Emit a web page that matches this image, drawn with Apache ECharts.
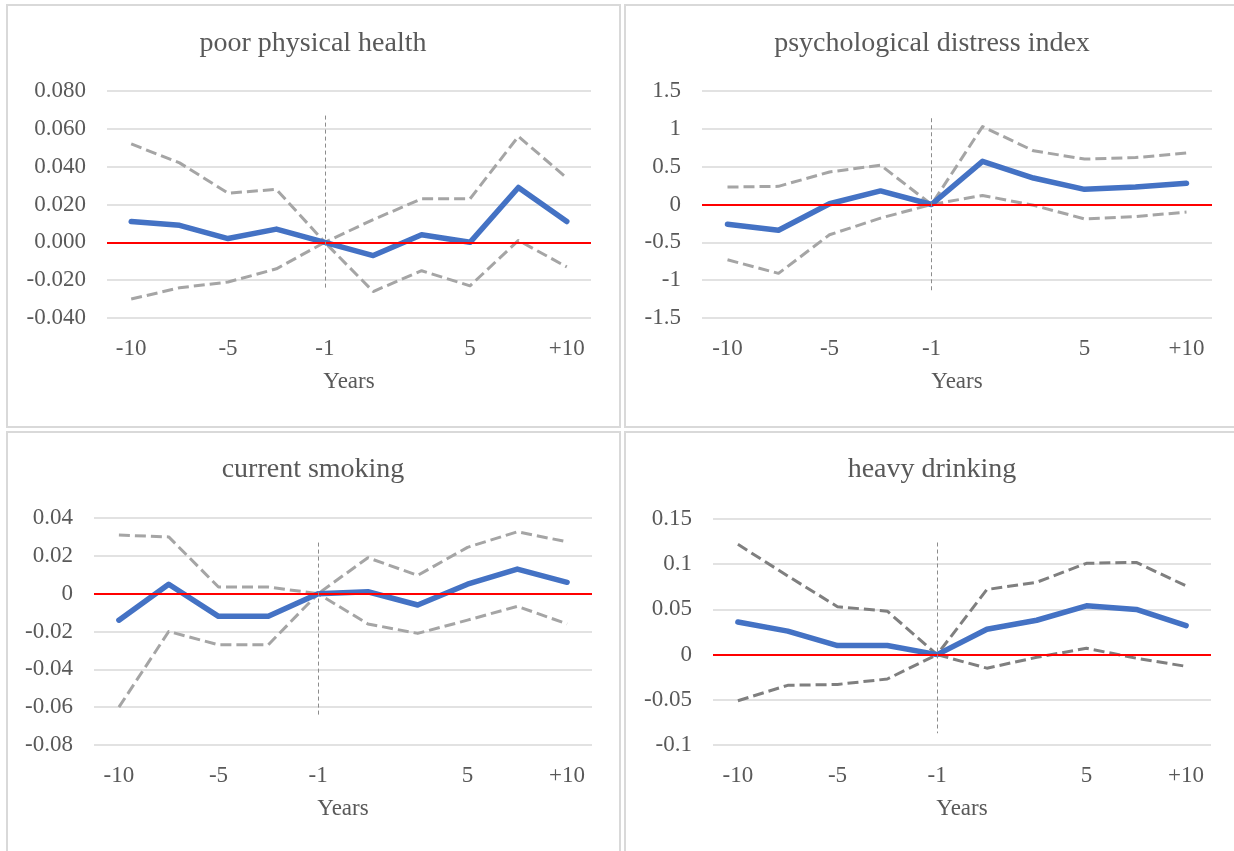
<!DOCTYPE html>
<html>
<head>
<meta charset="utf-8">
<script src="https://cdn.jsdelivr.net/npm/echarts@6/dist/echarts.min.js"></script>
<style>html,body{margin:0;padding:0;background:#fff}#c{width:1234px;height:851px}</style>
</head>
<body>
<div id="c"></div>
<script>
// ---- data ----
const years = ['-10', '', '-5', '', '-1', '', '', '5', '', '+10'];

const titles = ['poor physical health', 'psychological distress index', 'current smoking', 'heavy drinking'];

const physEst   = [0.011, 0.009, 0.002, 0.007, 0, -0.007, 0.004, 0.000, 0.029, 0.011];
const physUpper = [0.052, 0.042, 0.026, 0.028, 0, 0.012, 0.023, 0.023, 0.056, 0.034];
const physLower = [-0.030, -0.024, -0.021, -0.014, 0, -0.026, -0.015, -0.023, 0.001, -0.013];

const distEst   = [-0.26, -0.34, 0.01, 0.18, 0, 0.57, 0.35, 0.20, 0.23, 0.28];
const distUpper = [0.23, 0.24, 0.43, 0.52, 0, 1.03, 0.71, 0.60, 0.62, 0.68];
const distLower = [-0.73, -0.91, -0.40, -0.18, 0, 0.12, -0.01, -0.19, -0.16, -0.10];

const smokeEst   = [-0.014, 0.005, -0.012, -0.012, 0, 0.001, -0.006, 0.005, 0.013, 0.006];
const smokeUpper = [0.031, 0.030, 0.0035, 0.0035, 0, 0.019, 0.0097, 0.0245, 0.0327, 0.0274];
const smokeLower = [-0.060, -0.020, -0.027, -0.027, 0, -0.016, -0.021, -0.014, -0.0067, -0.016];

const drinkEst   = [0.036, 0.026, 0.010, 0.010, 0, 0.028, 0.038, 0.054, 0.050, 0.032];
const drinkUpper = [0.122, 0.087, 0.053, 0.048, 0, 0.072, 0.080, 0.101, 0.102, 0.076];
const drinkLower = [-0.051, -0.034, -0.033, -0.027, 0, -0.015, -0.003, 0.007, -0.004, -0.013];

// y-axis ranges [min, max, interval]
const yRanges = [[-0.04, 0.08, 0.02], [-1.5, 1.5, 0.5], [-0.08, 0.04, 0.02], [-0.1, 0.15, 0.05]];
// vertical reference line at event year -1: [top, bottom]
const vLines = [[0.067, -0.025], [1.14, -1.17], [0.027, -0.065], [0.124, -0.087]];

const panels = [
  {est: physEst, up: physUpper, lo: physLower},
  {est: distEst, up: distUpper, lo: distLower},
  {est: smokeEst, up: smokeUpper, lo: smokeLower},
  {est: drinkEst, up: drinkUpper, lo: drinkLower}
];

// ---- layout ----
const FONT = '"Liberation Serif", "Times New Roman", serif';
const TXT = '#595959';
const grids = [
  {left: 107, top: 91, width: 484, height: 227},
  {left: 702, top: 91, width: 510, height: 227},
  {left: 94, top: 518, width: 498, height: 227},
  {left: 713, top: 519, width: 498, height: 226}
];
const titlePos = [[313, 29], [932, 29], [313, 455], [932, 455]];
const boxes = [[7, 5, 613, 422], [625, 5, 620, 422], [7, 432, 613, 430], [625, 432, 620, 430]];
const ciColors = ['#A5A5A5', '#A5A5A5', '#A5A5A5', '#7F7F7F'];

const option = {
  animation: false,
  backgroundColor: '#fff',
  graphic: boxes.map(b => ({
    type: 'rect', shape: {x: b[0], y: b[1], width: b[2], height: b[3]},
    style: {fill: 'none', stroke: '#D9D9D9', lineWidth: 2}, silent: true, z: -1
  })),
  title: titles.map((t, i) => ({
    text: t, left: titlePos[i][0], top: titlePos[i][1], textAlign: 'center', padding: 0,
    textStyle: {fontFamily: FONT, fontSize: 28, fontWeight: 'normal', color: TXT, lineHeight: 30}
  })),
  grid: grids,
  xAxis: grids.map((g, i) => ({
    type: 'category', gridIndex: i, data: years, boundaryGap: true,
    axisLine: {show: false}, axisTick: {show: false},
    axisLabel: {interval: 0, margin: 19, fontFamily: FONT, fontSize: 23, color: TXT},
    name: 'Years', nameLocation: 'middle', nameGap: 52,
    nameTextStyle: {fontFamily: FONT, fontSize: 23, color: TXT},
    splitLine: {show: false}
  })),
  yAxis: grids.map((g, i) => ({
    type: 'value', gridIndex: i, min: yRanges[i][0], max: yRanges[i][1], interval: yRanges[i][2],
    axisLine: {show: false}, axisTick: {show: false},
    axisLabel: {margin: 21, fontFamily: FONT, fontSize: 23, color: TXT,
      formatter: i === 0 ? (v => v.toFixed(3)) : (v => String(Math.round(v * 1000) / 1000))},
    splitLine: {lineStyle: {color: '#D9D9D9', width: 1.5}}
  })),
  series: []
};

panels.forEach((p, i) => {
  const ci = {
    type: 'line', xAxisIndex: i, yAxisIndex: i, symbol: 'none',
    lineStyle: {color: ciColors[i], width: 3, type: [11, 5], cap: 'butt', join: 'round'},
    z: 3
  };
  option.series.push(Object.assign({}, ci, {name: 'upper', data: p.up}));
  option.series.push(Object.assign({}, ci, {name: 'lower', data: p.lo}));
  option.series.push({
    type: 'line', name: 'estimate', xAxisIndex: i, yAxisIndex: i, symbol: 'none', data: p.est,
    lineStyle: {color: '#4472C4', width: 5.5, cap: 'round', join: 'round'}, z: 4,
    markLine: {
      silent: true, symbol: 'none', label: {show: false}, animation: false,
      data: [
        {yAxis: 0, lineStyle: {color: '#FF0000', width: 2, type: 'solid'}},
        [{coord: [4, vLines[i][0]], lineStyle: {color: '#8C8C8C', width: 1, type: [4, 3]}},
         {coord: [4, vLines[i][1]]}]
      ]
    }
  });
});

const chart = echarts.init(document.getElementById('c'), null, {renderer: 'canvas'});
chart.setOption(option);
</script>
</body>
</html>
